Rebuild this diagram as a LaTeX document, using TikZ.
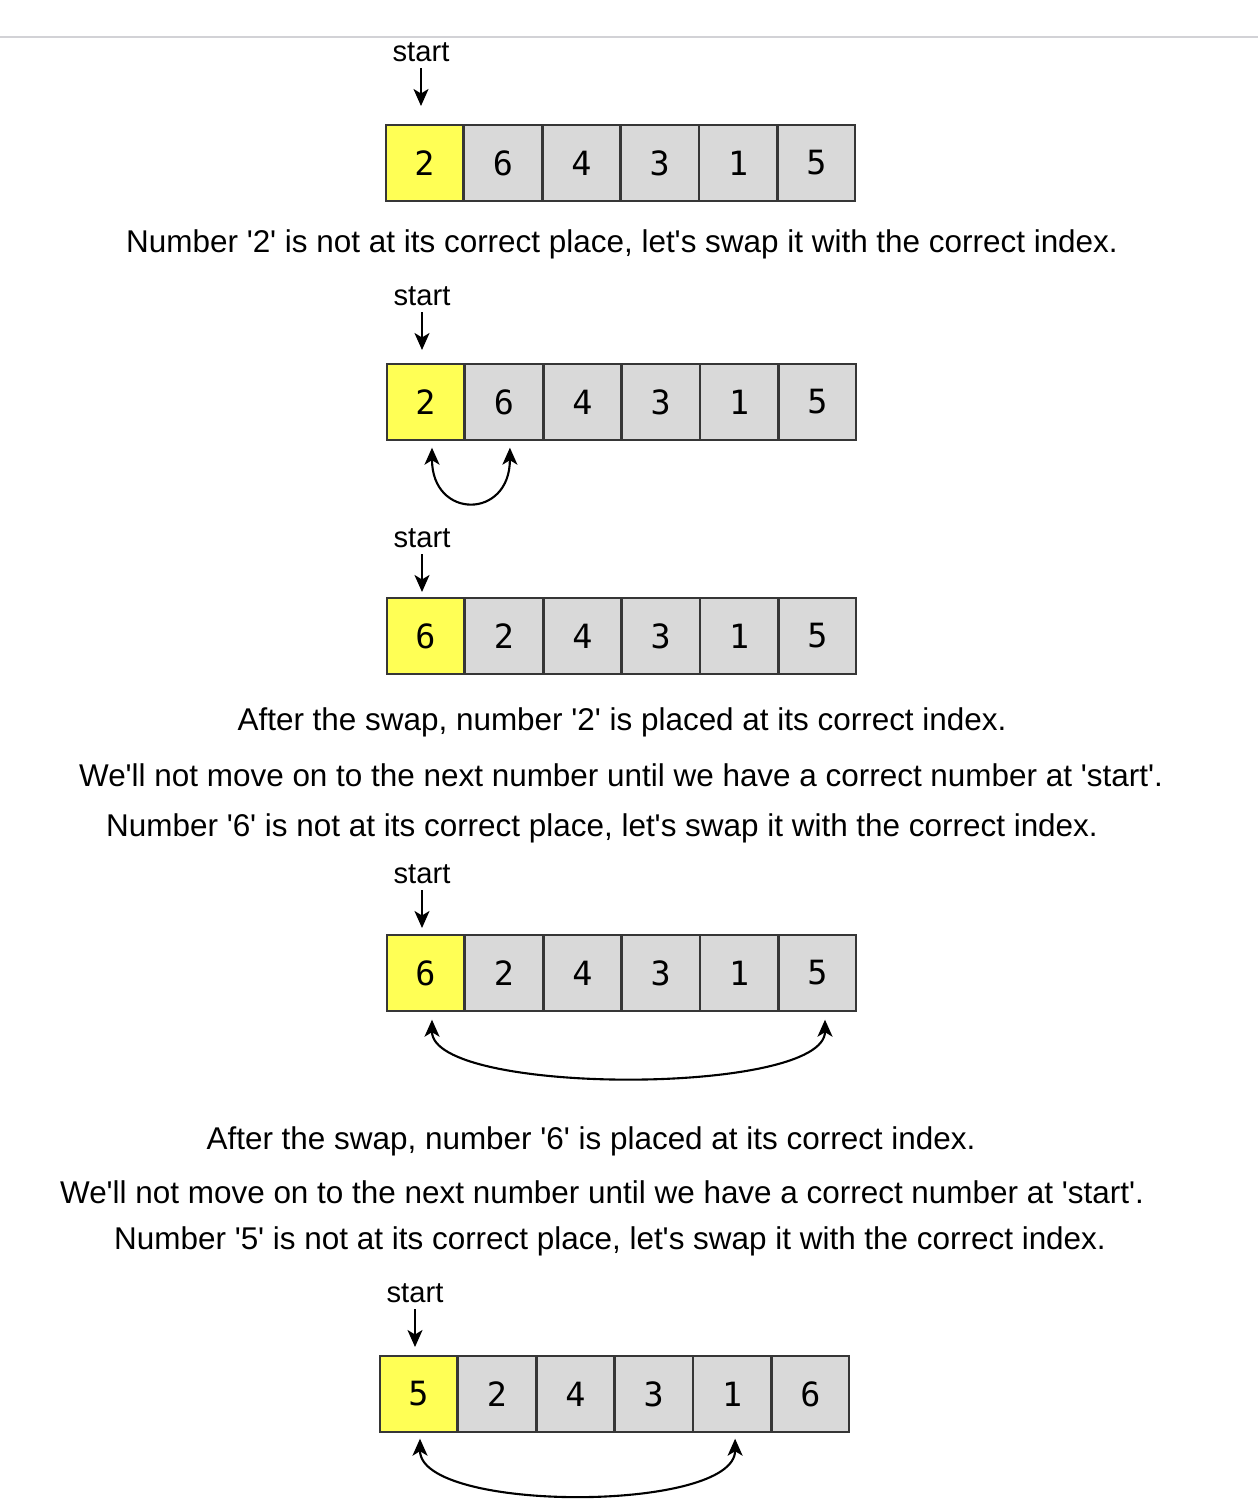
\documentclass[tikz,border=0pt]{standalone}
\usepackage{fontspec}
\usetikzlibrary{arrows.meta,calc}
\newfontfamily\txtfont{Liberation Sans}[Ligatures=TeXOff]
\newfontfamily\digfont{DejaVu Sans Mono}
\definecolor{cellgray}{HTML}{D9D9D9}
\definecolor{cellyellow}{HTML}{FFFF55}
\definecolor{cellline}{HTML}{363636}
\definecolor{rulegray}{HTML}{D2D2D6}

\begin{document}
\begin{tikzpicture}[x=0.02cm,y=-0.02cm,
    >={Stealth[length=0.34cm,width=0.3cm,inset=0.09cm]},
    cell/.style={draw=cellline, line width=0.8pt, minimum width=1.54cm,
      minimum height=1.52cm, inner sep=0pt, font=\digfont\fontsize{19}{19}\selectfont},
    startlbl/.style={inner sep=0pt, font=\txtfont\fontsize{16.6}{20}\selectfont},
    caption/.style={inner sep=0pt, font=\txtfont\fontsize{17.9}{21}\selectfont},
    arr/.style={->, line width=1.2pt, shorten <=0.13cm},
    swap/.style={<->, line width=1.2pt}]
  \useasboundingbox (0,0) rectangle (1258,1500);
  \draw[rulegray, line width=1.1pt] (0,37) -- (1258,37);

  % the arrays, one row per step
  \foreach \r/\top/\lx/\sy/\vals in {1/124/386/51/{2,6,4,3,1,5},
      2/363/387/295/{2,6,4,3,1,5}, 3/597/387/537/{6,2,4,3,1,5},
      4/934/387/873/{6,2,4,3,1,5}, 5/1355/380/1292/{5,2,4,3,1,6}} {
    \foreach \v [count=\c] in \vals {
      \pgfmathsetmacro{\cx}{\lx + 38.5 + (\c-1)*78.4}
      \pgfmathsetmacro{\shade}{ifthenelse(\c==1,"cellyellow","cellgray")}
      \node[cell, fill=\shade] (r\r-\c) at (\cx,\top+39) {\v};
    }
    \node[startlbl] (st\r) at (\lx+35,\sy+1) {start};
    \coordinate (tip\r) at ($(st\r.center)+(0,54)$);
    \draw[arr] (st\r.south) -- (tip\r);
  }

  % swaps
  \draw[swap] ($(r2-1.south)+(6.5,7)$) .. controls +(0,72) and +(0,72) .. ($(r2-2.south)+(6,7)$);
  \draw[swap] ($(r4-1.south)+(6.5,8)$) .. controls +(0,76) and +(0,76) .. ($(r4-6.south)+(7.5,8)$);
  \draw[swap] ($(r5-1.south)+(1.5,6)$) .. controls +(0,74) and +(0,74) .. ($(r5-5.south)+(3,6)$);

  \node[caption] (t1) at (622,244) {Number '2' is not at its correct place, let's swap it with the correct index.};
  \node[caption] (t2) at (622,722) {After the swap, number '2' is placed at its correct index.};
  \node[caption] (t3) at (621,775) {We'll not move on to the next number until we have a correct number at 'start'.};
  \node[caption] (t4) at (602,828) {Number '6' is not at its correct place, let's swap it with the correct index.};
  \node[caption] (t5) at (591,1141) {After the swap, number '6' is placed at its correct index.};
  \node[caption] (t6) at (602,1192) {We'll not move on to the next number until we have a correct number at 'start'.};
  \node[caption] (t7) at (610,1241) {Number '5' is not at its correct place, let's swap it with the correct index.};
\end{tikzpicture}
\end{document}
